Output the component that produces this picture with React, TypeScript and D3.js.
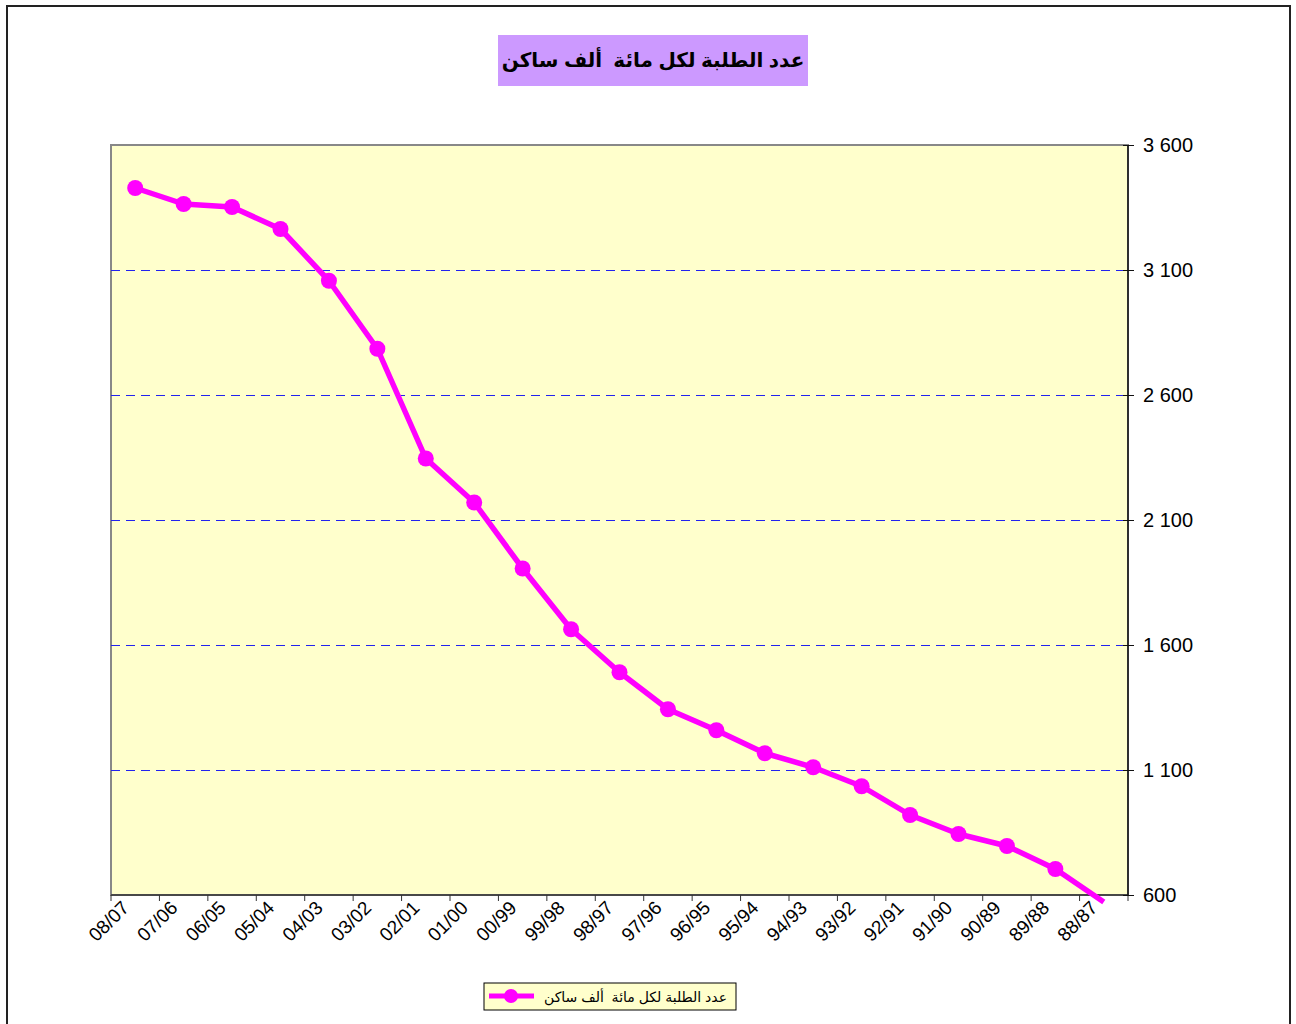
import React from "react";
import * as d3 from "d3";

const categories = ["08/07","07/06","06/05","05/04","04/03","03/02","02/01","01/00","00/99","99/98","98/97","97/96","96/95","95/94","94/93","93/92","92/91","91/90","90/89","89/88","88/87"];
const values = [3428,3364,3352,3264,3057,2785,2346,2170,1906,1663,1491,1343,1259,1167,1111,1035,920,844,796,704,572];
const yTicks = [600,1100,1600,2100,2600,3100,3600];
const title = "عدد الطلبة لكل مائة\u00A0\u00A0ألف ساكن";

const W = 1296, H = 1024;
const L = 111, R = 1128, T = 145, B = 895;
const FONT = "Arial, 'Liberation Sans', 'DejaVu Sans', sans-serif";

export default function App() {
  const x = d3.scaleBand<string>().domain(categories).range([L, R]).paddingInner(0).paddingOuter(0);
  const y = d3.scaleLinear().domain([600, 3600]).range([B, T]);
  const cx = (c: string) => (x(c) as number) + x.bandwidth() / 2;
  const pts = categories.map((c, i) => [cx(c), y(values[i])] as [number, number]);
  const line = d3.line<[number, number]>().x(d => d[0]).y(d => d[1]);
  const fmt = (v: number) => d3.format(",")(v).replace(/,/g, " ");
  const edges = categories.map(c => x(c) as number).concat([R]);

  return (
    <svg width={W} height={H} style={{ position: "absolute", left: 0, top: 0 }} fontFamily={FONT}>
      <rect x={0} y={0} width={W} height={H} fill="#fff" />
      <rect x={7} y={6} width={1283} height={1030} fill="none" stroke="#222" strokeWidth={2} />
      {/* title */}
      <rect x={498} y={35} width={310} height={51} fill="#cc99ff" />
      <text x={653} y={67} textAnchor="middle" fontSize={20} fontWeight="bold" fill="#000">{title}</text>
      {/* plot area */}
      <rect x={L} y={T} width={R - L} height={B - T} fill="#ffffcc" stroke="#888" strokeWidth={2} />
      {yTicks.filter(v => v > 600 && v < 3600).map(v => (
        <line key={v} x1={L} x2={R} y1={y(v) + 0.5} y2={y(v) + 0.5} stroke="#2222ee" strokeWidth={1} strokeDasharray="9,6" />
      ))}
      {/* bottom axis */}
      <line x1={L} x2={R} y1={B} y2={B} stroke="#333" strokeWidth={1.5} />
      {edges.map((e, i) => (
        <line key={i} x1={e} x2={e} y1={B} y2={B + 6} stroke="#333" strokeWidth={1} />
      ))}
      {/* right axis */}
      <line x1={R} x2={R} y1={T} y2={B} stroke="#111" strokeWidth={1.5} />
      {yTicks.map(v => (
        <g key={v}>
          <line x1={R - 5} x2={R + 6} y1={y(v) + 0.5} y2={y(v) + 0.5} stroke="#111" strokeWidth={1} />
          <text x={1143} y={y(v) + 7} fontSize={20} fill="#000">{fmt(v)}</text>
        </g>
      ))}
      {/* x labels */}
      {categories.map(c => (
        <text key={c} transform={`translate(${cx(c) - 5},${B + 14}) rotate(-45)`} textAnchor="end" fontSize={19} fill="#000">{c}</text>
      ))}
      {/* series */}
      <path d={line(pts) as string} fill="none" stroke="#ff00ff" strokeWidth={5.5} strokeLinejoin="round" />
      {pts.filter((p, i) => values[i] >= 600).map((p, i) => (
        <circle key={i} cx={p[0]} cy={p[1]} r={8} fill="#ff00ff" />
      ))}
      {/* legend */}
      <rect x={484} y={983} width={252} height={27} fill="#ffffcc" stroke="#000" strokeWidth={1} />
      <line x1={489} x2={534} y1={996} y2={996} stroke="#ff00ff" strokeWidth={5} />
      <circle cx={511} cy={996} r={7} fill="#ff00ff" />
      <text x={727} y={1002} textAnchor="end" fontSize={14} fill="#000">{title}</text>
    </svg>
  );
}
